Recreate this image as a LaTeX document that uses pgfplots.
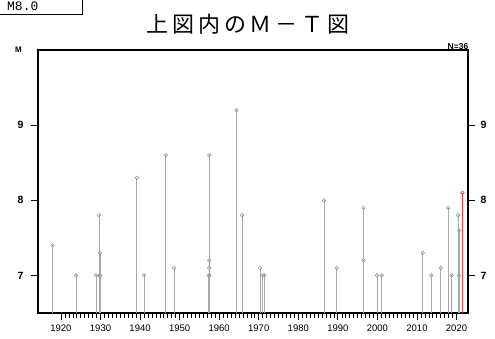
\documentclass[border=0pt]{standalone}
\usepackage{pgfplots}
\pgfplotsset{compat=1.18}
\usepackage{fontspec}
\setmainfont{Liberation Sans}
\newfontfamily\cjk[LetterSpace=18]{Noto Sans CJK JP}
\newfontfamily\monof{Liberation Mono}
\definecolor{stem}{HTML}{A8A8A8}
\definecolor{mk}{HTML}{9A9A9A}
\definecolor{redq}{HTML}{FF3A3A}
\begin{document}
\begin{tikzpicture}
\path[use as bounding box] (0pt,0pt) rectangle (495pt,338pt);
% M8.0 box
\draw[line width=0.9pt] (-2pt,323.5pt) rectangle (82.5pt,340pt);
\node[anchor=west, inner sep=0pt] at (7pt,331.5pt) {\monof\fontsize{13}{14}\selectfont M8.0};
% title
\node[inner sep=0pt] at (248pt,314pt) {\cjk\fontsize{22}{24}\selectfont 上図内のＭ－Ｔ図};
\node[inner sep=0pt] at (18.5pt,288.5pt) {\bfseries\fontsize{8}{9}\selectfont M};
\node[inner sep=0pt, anchor=east] at (468.5pt,291.5pt) {\bfseries\fontsize{8.5}{9}\selectfont N=36};
\begin{axis}[
  at={(38pt,25pt)}, anchor=south west,
  scale only axis, width=430pt, height=263pt,
  xmin=1914.2, xmax=2022.9, ymin=6.5, ymax=10,
  axis line style={line width=1.4pt},
  tick align=outside,
  xtick={1920,1930,...,2020},
  minor x tick num=9,
  xtick pos=left,
  ytick={7,8,9},
  ytick pos=left,
  major tick length=7pt,
  minor tick length=4.5pt,
  every tick/.style={black, line width=0.8pt},
  every minor tick/.style={black, line width=0.6pt},
  /pgf/number format/assume math mode=true,
  x tick label style={font=\fontsize{9.5}{10}\selectfont, /pgf/number format/1000 sep={}, yshift=-1pt},
  y tick label style={font=\bfseries\fontsize{10.5}{11}\selectfont, xshift=-4pt},
  clip=true,
]
\addplot[ycomb, color=stem, line width=0.8pt, mark=o, mark size=1.8pt,
  mark options={draw=mk, fill=white, line width=0.6pt}] table {
x y
1917.9 7.4
1923.8 7.0
1928.85 7.0
1929.6 7.8
1929.9 7.3
1929.9 7.0
1929.7 7.0
1939.2 8.3
1941.0 7.0
1946.5 8.6
1948.6 7.1
1957.5 8.6
1957.5 7.2
1957.5 7.1
1957.5 7.0
1957.4 7.0
1964.4 9.2
1965.8 7.8
1970.3 7.1
1971.0 7.0
1971.4 7.0
1986.5 8.0
1989.7 7.1
1996.5 7.9
1996.5 7.2
1999.9 7.0
2001.1 7.0
2011.45 7.3
2013.6 7.0
2016.0 7.1
2017.9 7.9
2018.8 7.0
2020.4 7.8
2020.7 7.6
2020.6 7.0
};
\addplot[ycomb, color=redq, line width=0.8pt, mark=o, mark size=1.8pt,
  mark options={draw=redq, fill=white, line width=0.6pt}] table {
x y
2021.5 8.1
};
\end{axis}
\begin{axis}[
  at={(38pt,25pt)}, anchor=south west,
  scale only axis, width=430pt, height=263pt,
  xmin=1914.2, xmax=2022.9, ymin=6.5, ymax=10,
  axis x line=none, axis y line*=right,
  axis line style={line width=1.4pt, -},
  tick align=outside,
  ytick={7,8,9},
  major tick length=7pt,
  every tick/.style={black, line width=0.8pt},
  /pgf/number format/assume math mode=true,
  y tick label style={font=\bfseries\fontsize{10.5}{11}\selectfont, xshift=2pt},
]
\end{axis}
\end{tikzpicture}
\end{document}
